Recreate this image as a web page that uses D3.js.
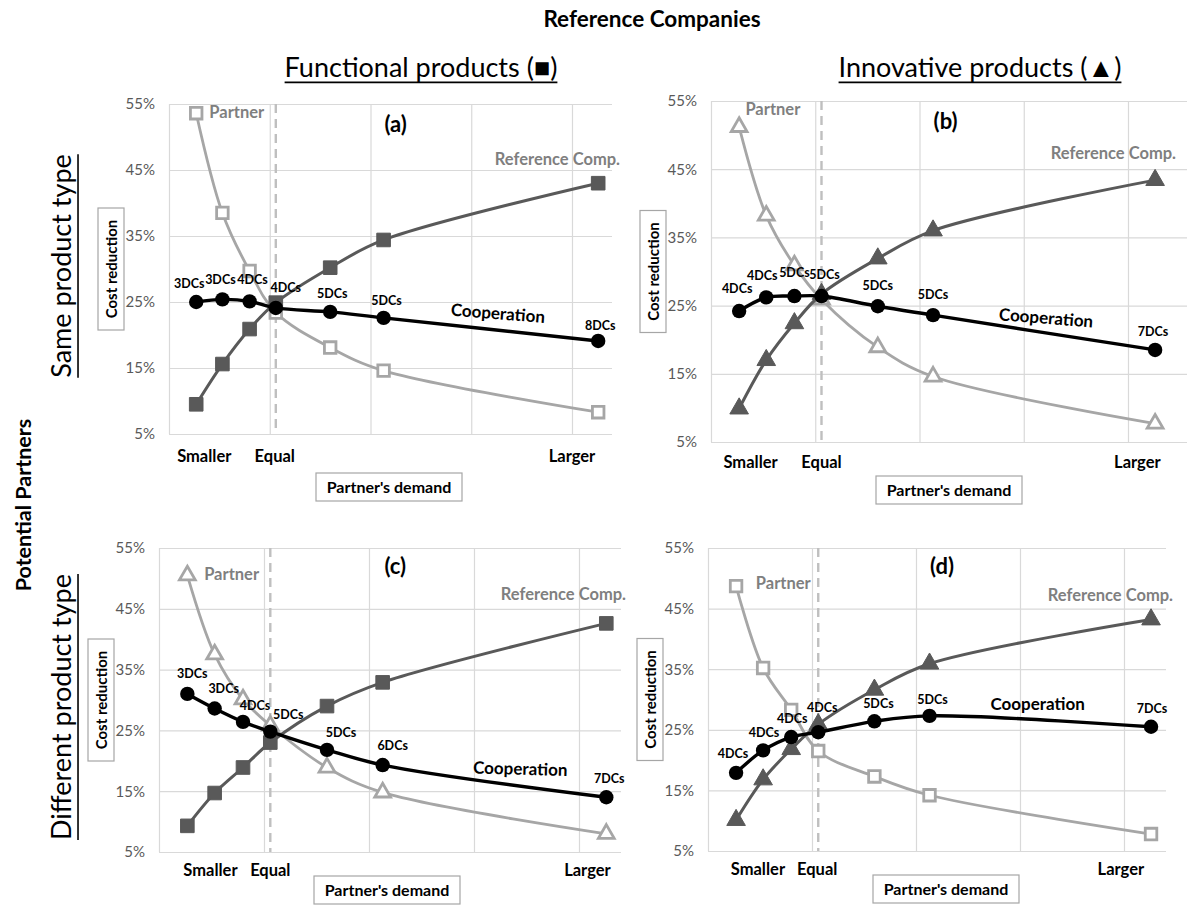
<!DOCTYPE html>
<html><head><meta charset="utf-8">
<script src="https://cdn.jsdelivr.net/npm/d3@7"></script>
<style>
body{margin:0;background:#fff}
svg{display:block}
text{font-family:Lato,"Open Sans",sans-serif}
</style>
</head><body>
<svg id="c" width="1187" height="907"></svg>
<script>
// ---------- DATA ----------
const demandPos = [0.27, 0.53, 0.80, 1.06, 1.60, 2.13, 4.26]; // partner demand points (grid units)
const equalPos = 1.06;
const xGrid = [0, 1, 2, 3, 4];
const yTicks = [5, 15, 25, 35, 45, 55];
const demandLabels = ["Smaller", "Equal", "Larger"];
const panelIds = ["(a)", "(b)", "(c)", "(d)"];

const partnerA = [53.6, 38.5, 29.7, 23.4, 18.1, 14.6, 8.3];
const refA     = [9.5, 15.6, 20.9, 24.9, 30.2, 34.4, 43.0];
const coopA    = [25.0, 25.4, 25.1, 24.1, 23.5, 22.6, 19.1];
const dcA      = ["3DCs", "3DCs", "4DCs", "4DCs", "5DCs", "5DCs", "8DCs"];

const partnerB = [51.2, 38.2, 30.9, 25.9, 18.9, 14.6, 7.7];
const refB     = [9.9, 17.0, 22.4, 26.7, 31.9, 36.0, 43.4];
const coopB    = [24.2, 26.2, 26.4, 26.4, 24.9, 23.6, 18.5];
const dcB      = ["4DCs", "4DCs", "5DCs", "5DCs", "5DCs", "5DCs", "7DCs"];

const partnerC = [50.5, 37.5, 30.1, 25.8, 18.9, 14.8, 8.0];
const refC     = [9.3, 14.7, 18.9, 23.0, 29.0, 32.9, 42.6];
const coopC    = [31.0, 28.6, 26.4, 24.8, 21.8, 19.3, 14.0];
const dcC      = ["3DCs", "3DCs", "4DCs", "5DCs", "5DCs", "6DCs", "7DCs"];

const partnerD = [48.7, 35.2, 28.3, 21.5, 17.3, 14.2, 7.8];
const refD     = [10.1, 16.8, 21.8, 25.9, 31.6, 35.9, 43.2];
const coopD    = [17.9, 21.6, 23.8, 24.6, 26.4, 27.3, 25.5];
const dcD      = ["4DCs", "4DCs", "4DCs", "4DCs", "5DCs", "5DCs", "7DCs"];

// ---------- LAYOUT ----------
const panels = [
  {id: panelIds[0], partner: partnerA, ref: refA, coop: coopA, dc: dcA,
   left: 169, right: 612, top: 104, bottom: 434, unit: 100.75,
   pShape: "square", rShape: "square", catDy: 28, boxX: 389, boxDy: 53, refEnd: 620,
   catPos: [0.35, 1.05, 4.0], coopLbl: [3.26, 23.3, 4.5], partLbl: [0.40, 53.7], refLblY: 46.5,
   dcOff: [[-7,-14],[-2,-15],[3,-17],[10,-16],[2,-14],[3,-13],[2,-11]]},
  {id: panelIds[1], partner: partnerB, ref: refB, coop: coopB, dc: dcB,
   left: 711, right: 1187, top: 101, bottom: 442, unit: 104.25,
   pShape: "triangle", rShape: "triangle", catDy: 26, boxX: 949, boxDy: 48, refEnd: 1176,
   catPos: [0.38, 1.06, 4.09], coopLbl: [3.21, 23.2, 4.5], partLbl: [0.33, 53.7], refLblY: 47.2,
   dcOff: [[-2,-18],[-4,-17],[0,-19],[3,-17],[0,-16],[0,-16],[-2,-14]]},
  {id: panelIds[2], partner: partnerC, ref: refC, coop: coopC, dc: dcC,
   left: 159, right: 621, top: 548, bottom: 852, unit: 105,
   pShape: "triangle", rShape: "square", catDy: 24, boxX: 387, boxDy: 38, refEnd: 626,
   catPos: [0.49, 1.06, 4.08], coopLbl: [3.44, 18.7, 1.5], partLbl: [0.43, 50.6], refLblY: 47.3,
   dcOff: [[5,-16],[9,-16],[12,-12],[18,-13],[14,-13],[10,-15],[3,-14]]},
  {id: panelIds[3], partner: partnerD, ref: refD, coop: coopD, dc: dcD,
   left: 708, right: 1166, top: 548, bottom: 851, unit: 104,
   pShape: "square", rShape: "triangle", catDy: 24, boxX: 946, boxDy: 38, refEnd: 1173,
   catPos: [0.48, 1.05, 3.97], coopLbl: [3.17, 29.2, 0], partLbl: [0.46, 49.1], refLblY: 47.1,
   dcOff: [[-3,-15],[1,-13],[1,-14],[4,-20],[4,-13],[3,-12],[1,-14]]}
];

const C_PART = "#a6a6a6", C_REF = "#595959", C_COOP = "#000", C_GRID = "#d9d9d9", C_LBL = "#7f7f7f";
const svg = d3.select("#c");

function underlined(g, txt, x, y, size, weight, rotate) {
  const t = g.append("text").attr("text-anchor", "middle").attr("font-size", size)
    .attr("font-weight", weight).attr("fill", "#000").text(txt);
  const w = t.node().getComputedTextLength();
  if (rotate) {
    t.attr("transform", `translate(${x},${y}) rotate(-90)`);
    g.append("line").attr("x1", x + size*0.26).attr("x2", x + size*0.26)
      .attr("y1", y - w/2).attr("y2", y + w/2).attr("stroke", "#000").attr("stroke-width", 1.6);
  } else {
    t.attr("x", x).attr("y", y);
    g.append("line").attr("x1", x - w/2).attr("x2", x + w/2)
      .attr("y1", y + size*0.2).attr("y2", y + size*0.2).attr("stroke", "#000").attr("stroke-width", 1.6);
  }
}

// headers
svg.append("text").attr("x", 652).attr("y", 27).attr("text-anchor", "middle")
  .attr("font-size", 22.5).attr("font-weight", 700).text("Reference Companies");
underlined(svg, "Functional products (\u25A0)", 421, 77, 27, 400, false);
underlined(svg, "Innovative products (\u25B2)", 980, 77, 27, 400, false);
svg.append("text").attr("transform", "translate(31,505) rotate(-90)").attr("text-anchor", "middle")
  .attr("font-size", 21.5).attr("font-weight", 700).text("Potential Partners");
underlined(svg, "Same product type", 71, 266, 27, 400, true);
underlined(svg, "Different product type", 71, 707, 27, 400, true);

function marker(sel, shape, filled, color, x, y) {
  const size = shape === "square" ? 185 : 150;
  const sym = d3.symbol().type(shape === "square" ? d3.symbolSquare : d3.symbolTriangle).size(filled ? size : size*0.72);
  sel.append("path").attr("d", sym())
    .attr("transform", `translate(${x},${y})`)
    .attr("fill", filled ? color : "#fff")
    .attr("stroke", color).attr("stroke-width", filled ? 1 : 2.8);
}

panels.forEach(p => {
  const g = svg.append("g");
  const xmax = (p.right - p.left) / p.unit;
  const x = d3.scaleLinear().domain([0, xmax]).range([p.left, p.right]);
  const y = d3.scaleLinear().domain([5, 55]).range([p.bottom, p.top]);
  const W = p.right - p.left, H = p.bottom - p.top;

  const ya = g.append("g").attr("transform", `translate(${p.left},0)`)
    .call(d3.axisLeft(y).tickValues(yTicks).tickSize(-W).tickPadding(14).tickFormat(d => d + "%"));
  ya.select(".domain").remove();
  ya.attr("font-family", null).attr("font-size", null);
  ya.selectAll("line").attr("stroke", C_GRID).attr("stroke-width", 1.2);
  ya.selectAll("text").attr("fill", "#595959").attr("font-size", 15);

  const xa = g.append("g").attr("transform", `translate(0,${p.bottom})`)
    .call(d3.axisBottom(x).tickValues(xGrid).tickSize(-H).tickFormat(""));
  xa.select(".domain").remove();
  xa.selectAll("line").attr("stroke", C_GRID).attr("stroke-width", 1.2);

  // equal dashed line
  g.append("line").attr("x1", x(equalPos)).attr("x2", x(equalPos))
    .attr("y1", y(55)).attr("y2", y(5)).attr("stroke", "#bfbfbf")
    .attr("stroke-width", 2.4).attr("stroke-dasharray", "9,6");

  const line = d3.line().x((d, i) => x(demandPos[i])).y(d => y(d)).curve(d3.curveCatmullRom.alpha(0.5));

  g.append("path").attr("d", line(p.partner)).attr("fill", "none").attr("stroke", C_PART).attr("stroke-width", 2.8);
  p.partner.forEach((v, i) => marker(g, p.pShape, false, C_PART, x(demandPos[i]), y(v)));
  g.append("path").attr("d", line(p.ref)).attr("fill", "none").attr("stroke", C_REF).attr("stroke-width", 3);
  p.ref.forEach((v, i) => marker(g, p.rShape, true, C_REF, x(demandPos[i]), y(v)));
  g.append("path").attr("d", line(p.coop)).attr("fill", "none").attr("stroke", C_COOP).attr("stroke-width", 3.4);
  g.selectAll("circle.co").data(p.coop).enter().append("circle")
    .attr("cx", (d, i) => x(demandPos[i])).attr("cy", d => y(d)).attr("r", 7.2).attr("fill", C_COOP);

  // DC labels
  p.coop.forEach((v, i) => {
    g.append("text").attr("x", x(demandPos[i]) + p.dcOff[i][0]).attr("y", y(v) + p.dcOff[i][1])
      .attr("text-anchor", "middle").attr("font-size", 12.5).attr("font-weight", 700).text(p.dc[i]);
  });

  // series labels
  g.append("text").attr("transform", `translate(${x(p.coopLbl[0])},${y(p.coopLbl[1]) + 6}) rotate(${p.coopLbl[2]})`)
    .attr("text-anchor", "middle").attr("font-size", 17).attr("font-weight", 700).text("Cooperation");
  g.append("text").attr("x", x(p.partLbl[0])).attr("y", y(p.partLbl[1]) + 5)
    .attr("font-size", 16.5).attr("font-weight", 700).attr("fill", C_LBL).text("Partner");
  g.append("text").attr("x", p.refEnd).attr("y", y(p.refLblY) + 5).attr("text-anchor", "end")
    .attr("font-size", 16.5).attr("font-weight", 700).attr("fill", C_LBL).text("Reference Comp.");
  g.append("text").attr("x", x(2.25)).attr("y", y(52) + 8).attr("text-anchor", "middle")
    .attr("font-size", 22).attr("font-weight", 700).text(p.id);

  // category labels
  demandLabels.forEach((t, i) => {
    g.append("text").attr("x", x(p.catPos[i])).attr("y", p.bottom + p.catDy).attr("text-anchor", "middle")
      .attr("font-size", 16.5).attr("font-weight", 700).text(t);
  });

  // axis title boxes
  const cx = p.left - 58, cy = (p.top + p.bottom) / 2;
  g.append("rect").attr("x", cx - 13).attr("y", cy - 61).attr("width", 26).attr("height", 122)
    .attr("fill", "#fff").attr("stroke", "#a6a6a6").attr("stroke-width", 1.2);
  g.append("text").attr("transform", `translate(${cx + 5.5},${cy}) rotate(-90)`).attr("text-anchor", "middle")
    .attr("font-size", 15).attr("font-weight", 700).text("Cost reduction");
  const bx = p.boxX, by = p.bottom + p.boxDy;
  g.append("rect").attr("x", bx - 73).attr("y", by - 14).attr("width", 146).attr("height", 28)
    .attr("fill", "#fff").attr("stroke", "#a6a6a6").attr("stroke-width", 1.2);
  g.append("text").attr("x", bx).attr("y", by + 5.5).attr("text-anchor", "middle")
    .attr("font-size", 16).attr("font-weight", 700).text("Partner's demand");
});
</script>
</body></html>
